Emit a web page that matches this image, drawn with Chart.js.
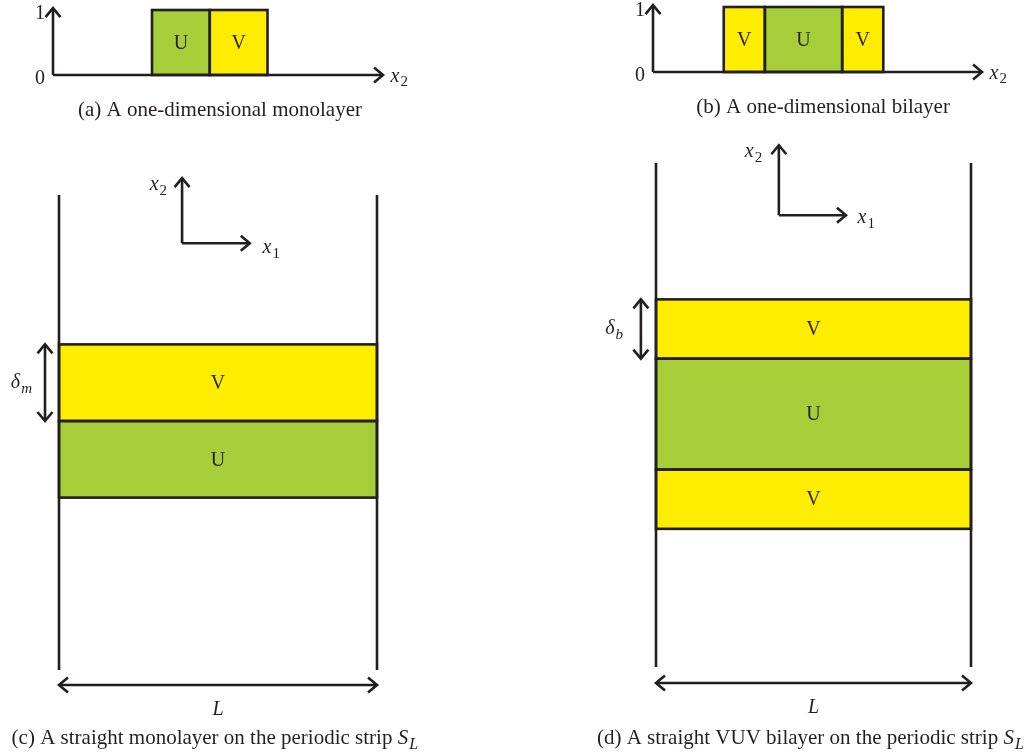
<!DOCTYPE html>
<html>
<head>
<meta charset="utf-8">
<script src="https://cdn.jsdelivr.net/npm/chart.js@4.4.1/dist/chart.umd.min.js"></script>
<style>
  html, body { margin: 0; padding: 0; background: #ffffff; }
  #wrap { position: relative; width: 1033px; height: 755px; overflow: hidden; }
  canvas { position: absolute; }
</style>
</head>
<body>
<div id="wrap">
  <canvas id="pa" style="left:0px;top:0px" width="516" height="130"></canvas>
  <canvas id="pb" style="left:516px;top:0px" width="517" height="130"></canvas>
  <canvas id="pc" style="left:0px;top:130px" width="516" height="625"></canvas>
  <canvas id="pd" style="left:516px;top:130px" width="517" height="625"></canvas>
</div>
<script>
// (a) one-dimensional monolayer profile along x2 (axis runs 0..100)
const monoLayers1D = ['U', 'V'];
const monoStart1D  = [30, 47.5];
const monoEnd1D    = [47.5, 65];

// (b) one-dimensional bilayer profile along x2
const biLayers1D = ['V', 'U', 'V'];
const biStart1D  = [21.5, 34, 57.5];
const biEnd1D    = [34, 57.5, 70];

// (c) straight monolayer on the strip, heights in the x2 direction
const monoStripLayers = ['U', 'V'];
const monoStripBottom = [2.25, 3.25];
const monoStripTop    = [3.25, 4.25];

// (d) straight VUV bilayer on the strip
const biStripLayers = ['V', 'U', 'V'];
const biStripBottom = [2.33, 3.33, 5.2];
const biStripTop    = [3.33, 5.2, 6.2];

// profile axis tick labels
const levelTicks = ['0', '1'];

const captions = [
  ['(a) A one-dimensional monolayer', null],
  ['(b) A one-dimensional bilayer', null],
  ['(c) A straight monolayer on the periodic strip ', ['S', 'L']],
  ['(d) A straight VUV bilayer on the periodic strip ', ['S', 'L']]
];

const FILL = { U: '#a6ce39', V: '#ffed00' };
const INK = '#231f20';
const SERIF = '"Liberation Serif", "Times New Roman", serif';
const LW = 2.6;

function seg(ctx, x0, y0, x1, y1) {
  ctx.beginPath(); ctx.moveTo(x0, y0); ctx.lineTo(x1, y1); ctx.stroke();
}
function head(ctx, tx, ty, dx, dy) {
  const len = 9, w = 7.5;
  const bx = tx - dx * len, by = ty - dy * len;
  const px = -dy, py = dx;
  ctx.beginPath();
  ctx.moveTo(bx + px * w, by + py * w);
  ctx.lineTo(tx, ty);
  ctx.lineTo(bx - px * w, by - py * w);
  ctx.stroke();
}
function arrow(ctx, x0, y0, x1, y1, both) {
  seg(ctx, x0, y0, x1, y1);
  const d = Math.hypot(x1 - x0, y1 - y0);
  const dx = (x1 - x0) / d, dy = (y1 - y0) / d;
  head(ctx, x1, y1, dx, dy);
  if (both) head(ctx, x0, y0, -dx, -dy);
}
// italic symbol with a subscript; align 'left' | 'right' | 'center'
function symbol(ctx, main, sub, x, y, align, size) {
  size = size || 20;
  const mainFont = 'italic ' + size + 'px ' + SERIF;
  const subItalic = /[A-Za-z]/.test(sub);
  const subFont = (subItalic ? 'italic ' : '') + Math.round(size * 0.74) + 'px ' + SERIF;
  ctx.font = mainFont; const wm = ctx.measureText(main).width;
  ctx.font = subFont; const ws = ctx.measureText(sub).width;
  const total = wm + ws + 1;
  let sx = x;
  if (align === 'right') sx = x - total;
  else if (align === 'center') sx = x - total / 2;
  ctx.textAlign = 'left'; ctx.textBaseline = 'middle'; ctx.fillStyle = INK;
  ctx.font = mainFont; ctx.fillText(main, sx, y);
  ctx.font = subFont; ctx.fillText(sub, sx + wm + 1, y + size * 0.3);
}
function caption(ctx, item, cx, cy) {
  const [text, sym] = item;
  const size = 21;
  ctx.font = size + 'px ' + SERIF;
  const wt = ctx.measureText(text).width;
  let ws = 0;
  if (sym) {
    ctx.font = 'italic ' + size + 'px ' + SERIF; ws += ctx.measureText(sym[0]).width;
    ctx.font = 'italic ' + Math.round(size * 0.74) + 'px ' + SERIF; ws += ctx.measureText(sym[1]).width + 1;
  }
  const sx = cx - (wt + ws) / 2;
  ctx.textAlign = 'left'; ctx.textBaseline = 'middle'; ctx.fillStyle = INK;
  ctx.font = size + 'px ' + SERIF; ctx.fillText(text, sx, cy);
  if (sym) symbol(ctx, sym[0], sym[1], sx + wt, cy, 'left', size);
}
// outline each bar on its edges and write the layer name at its centre
function outlineBars(chart, names) {
  const ctx = chart.ctx;
  chart.data.datasets.forEach((ds, i) => {
    chart.getDatasetMeta(i).data.forEach(el => {
      const p = el.getProps(['x', 'y', 'base', 'width', 'height', 'horizontal'], true);
      let l, r, t, b;
      if (p.horizontal) {
        l = Math.min(p.x, p.base); r = Math.max(p.x, p.base);
        t = p.y - p.height / 2; b = p.y + p.height / 2;
      } else {
        l = p.x - p.width / 2; r = p.x + p.width / 2;
        t = Math.min(p.y, p.base); b = Math.max(p.y, p.base);
      }
      ctx.strokeStyle = INK; ctx.lineWidth = LW;
      ctx.strokeRect(l, t, r - l, b - t);
      ctx.fillStyle = INK; ctx.font = '20px ' + SERIF;
      ctx.textAlign = 'center'; ctx.textBaseline = 'middle';
      ctx.fillText(names[i], (l + r) / 2, (t + b) / 2 + 1);
    });
  });
}

function layerDatasets(names, starts, ends) {
  return names.map((n, i) => ({
    label: n,
    data: [[starts[i], ends[i]]],
    backgroundColor: FILL[n],
    borderWidth: 0,
    grouped: false,
    barPercentage: 1,
    categoryPercentage: 1
  }));
}

// ---------- 1D profiles (a), (b) ----------
function profileChart(id, names, starts, ends, pad, cap, capPos) {
  const deco = {
    id: 'profileDeco',
    afterDatasetsDraw(chart) {
      const ctx = chart.ctx, xs = chart.scales.x, lv = chart.scales.lv;
      ctx.save();
      outlineBars(chart, names);
      ctx.strokeStyle = INK; ctx.lineWidth = LW; ctx.lineCap = 'butt';
      const x0 = xs.getPixelForValue(0), y0 = lv.getPixelForValue(0);
      arrow(ctx, x0, y0, xs.getPixelForValue(100), y0);
      arrow(ctx, x0, y0, x0, lv.getPixelForValue(1.03));
      ctx.fillStyle = INK; ctx.font = '20px ' + SERIF;
      ctx.textAlign = 'right'; ctx.textBaseline = 'middle';
      ctx.fillText(levelTicks[0], x0 - 8, lv.getPixelForValue(0) + 4);
      ctx.fillText(levelTicks[1], x0 - 8, lv.getPixelForValue(1) + 4);
      symbol(ctx, 'x', '2', xs.getPixelForValue(102.3), lv.getPixelForValue(-0.02), 'left');
      caption(ctx, cap, xs.getPixelForValue(capPos[0]), lv.getPixelForValue(capPos[1]));
      ctx.restore();
    }
  };
  return new Chart(document.getElementById(id), {
    type: 'bar',
    data: { labels: [''], datasets: layerDatasets(names, starts, ends) },
    options: {
      indexAxis: 'y', responsive: false, animation: false, events: [],
      layout: { padding: pad },
      scales: {
        x: { type: 'linear', min: 0, max: 100, offset: false, display: false },
        y: { type: 'category', display: false },
        lv: { type: 'linear', axis: 'y', position: 'left', min: 0, max: 1, offset: false, display: false }
      },
      plugins: { legend: { display: false }, tooltip: { enabled: false }, title: { display: false } }
    },
    plugins: [deco]
  });
}

// ---------- strips (c), (d) ----------
function stripChart(id, names, bottoms, tops, yMax, pad, a) {
  const deco = {
    id: 'stripDeco',
    afterDatasetsDraw(chart) {
      const ctx = chart.ctx, u = chart.scales.u, ys = chart.scales.y;
      const px = v => u.getPixelForValue(v), py = v => ys.getPixelForValue(v);
      ctx.save();
      outlineBars(chart, names);
      ctx.strokeStyle = INK; ctx.lineWidth = LW; ctx.lineCap = 'butt';
      // periodic strip walls
      seg(ctx, px(0), py(0), px(0), py(yMax));
      seg(ctx, px(1), py(0), px(1), py(yMax));
      // coordinate frame
      arrow(ctx, px(a.frame[0]), py(a.frame[1]), px(a.frame[2]), py(a.frame[1]));
      arrow(ctx, px(a.frame[0]), py(a.frame[1]), px(a.frame[0]), py(a.frame[3]));
      symbol(ctx, 'x', '2', px(a.x2Label[0]), py(a.x2Label[1]), 'right');
      symbol(ctx, 'x', '1', px(a.x1Label[0]), py(a.x1Label[1]), 'left');
      // layer thickness
      const top = names.length - 1;
      arrow(ctx, px(a.delta[0]), py(bottoms[top]), px(a.delta[0]), py(tops[top]), true);
      symbol(ctx, '\u03b4', a.delta[1], px(a.delta[2]), py((bottoms[top] + tops[top]) / 2), 'right');
      // period
      arrow(ctx, px(0), py(a.period[0]), px(1), py(a.period[0]), true);
      ctx.fillStyle = INK; ctx.font = 'italic 20px ' + SERIF;
      ctx.textAlign = 'center'; ctx.textBaseline = 'middle';
      ctx.fillText('L', px(0.5), py(a.period[1]));
      caption(ctx, a.cap, px(a.capPos[0]), py(a.capPos[1]));
      ctx.restore();
    }
  };
  return new Chart(document.getElementById(id), {
    type: 'bar',
    data: { labels: [''], datasets: layerDatasets(names, bottoms, tops) },
    options: {
      responsive: false, animation: false, events: [],
      layout: { padding: pad },
      scales: {
        x: { type: 'category', display: false },
        u: { type: 'linear', axis: 'x', position: 'bottom', min: 0, max: 1, offset: false, display: false },
        y: { type: 'linear', min: 0, max: yMax, offset: false, display: false }
      },
      plugins: { legend: { display: false }, tooltip: { enabled: false }, title: { display: false } }
    },
    plugins: [deco]
  });
}

profileChart('pa', monoLayers1D, monoStart1D, monoEnd1D,
  { left: 53, right: 133, top: 10, bottom: 55 }, captions[0], [50.6, -0.54]);
profileChart('pb', biLayers1D, biStart1D, biEnd1D,
  { left: 137, right: 51, top: 7, bottom: 58 }, captions[1], [51.7, -0.54]);

stripChart('pc', monoStripLayers, monoStripBottom, monoStripTop, 6.2,
  { left: 59, right: 139, top: 65, bottom: 85 },
  { frame: [0.387, 5.57, 0.60, 6.42], x2Label: [0.34, 6.33], x1Label: [0.64, 5.51],
    delta: [-0.044, 'm', -0.085], period: [-0.196, -0.52], cap: captions[2], capPos: [0.49, -0.89] });

stripChart('pd', biStripLayers, biStripBottom, biStripTop, 8.5,
  { left: 140, right: 62, top: 33, bottom: 88 },
  { frame: [0.39, 7.62, 0.603, 8.80], x2Label: [0.337, 8.69], x1Label: [0.64, 7.57],
    delta: [-0.048, 'b', -0.105], period: [-0.27, -0.69], cap: captions[3], capPos: [0.49, -1.2] });
</script>
</body>
</html>
